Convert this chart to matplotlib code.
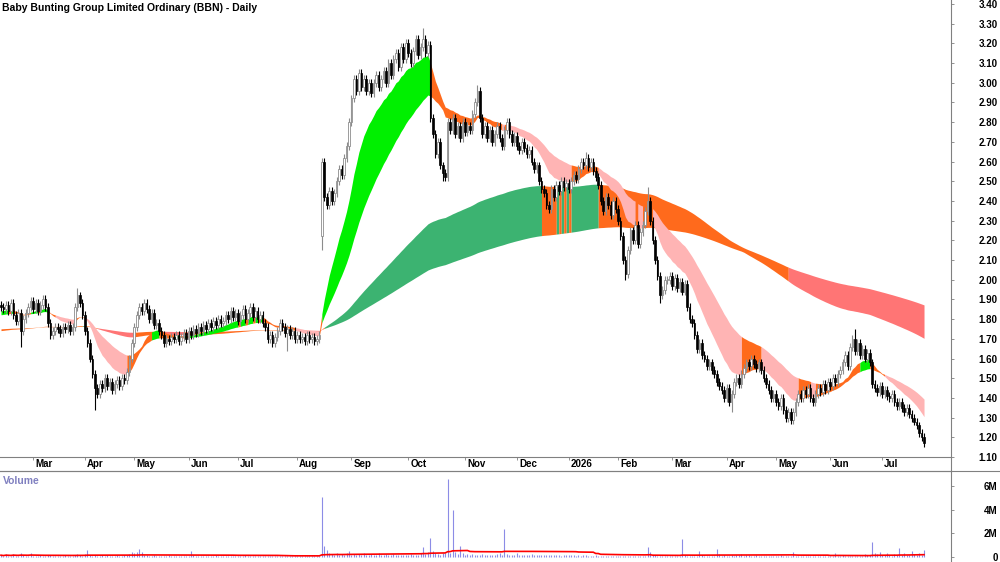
import numpy as np
import matplotlib
matplotlib.use("Agg")
import matplotlib.pyplot as plt
from matplotlib.lines import Line2D

plt.rcParams['font.family'] = ['Liberation Sans', 'DejaVu Sans']

# ---------------------------------------------------------------
# data (daily)
# ---------------------------------------------------------------
title = "Baby Bunting Group Limited Ordinary (BBN) - Daily"

closes = [
    1.86, 1.85, 1.87, 1.84, 1.88, 1.82, 1.79, 1.83, 1.74, 1.80,
    1.83, 1.86, 1.89, 1.85, 1.88, 1.84, 1.87, 1.90, 1.86, 1.78,
    1.72, 1.74, 1.76, 1.75, 1.73, 1.76, 1.75, 1.77, 1.74, 1.76,
    1.86, 1.92, 1.88, 1.82, 1.74, 1.68, 1.60, 1.52, 1.45, 1.42,
    1.47, 1.45, 1.50, 1.46, 1.48, 1.44, 1.47, 1.49, 1.46, 1.50,
    1.49, 1.53, 1.60, 1.68, 1.76, 1.82, 1.86, 1.84, 1.88, 1.85,
    1.80, 1.83, 1.77, 1.78, 1.74, 1.72, 1.68, 1.70, 1.69, 1.71,
    1.70, 1.72, 1.69, 1.71, 1.73, 1.70, 1.74, 1.72, 1.75, 1.73,
    1.76, 1.74, 1.77, 1.75, 1.78, 1.76, 1.79, 1.77, 1.80, 1.78,
    1.79, 1.82, 1.80, 1.84, 1.81, 1.83, 1.79, 1.82, 1.85, 1.80,
    1.83, 1.86, 1.81, 1.84, 1.80, 1.82, 1.78, 1.76, 1.70, 1.72,
    1.68, 1.71, 1.74, 1.78, 1.76, 1.73, 1.75, 1.72, 1.74, 1.70,
    1.72, 1.70, 1.71, 1.69, 1.72, 1.70, 1.71, 1.69, 1.70, 1.72,
    2.60, 2.42, 2.38, 2.45, 2.40, 2.44, 2.50, 2.56, 2.53, 2.62,
    2.68, 2.80, 2.92, 3.02, 2.96, 3.05, 2.98, 3.02, 2.96, 3.00,
    2.95, 3.00, 3.04, 2.98, 3.02, 3.06, 3.00, 3.10, 3.04, 3.12,
    3.15, 3.08, 3.18, 3.12, 3.20, 3.15, 3.10, 3.16, 3.22, 3.14,
    3.18, 3.22, 3.15, 3.19, 2.82, 2.74, 2.64, 2.70, 2.58, 2.54,
    2.52, 2.80, 2.76, 2.82, 2.74, 2.78, 2.72, 2.80, 2.75, 2.78,
    2.76, 2.84, 2.90, 2.96, 2.82, 2.74, 2.78, 2.72, 2.76, 2.70,
    2.74, 2.78, 2.72, 2.68, 2.76, 2.80, 2.74, 2.70, 2.73, 2.68,
    2.66, 2.70, 2.67, 2.64, 2.66, 2.60, 2.56, 2.58, 2.50, 2.46,
    2.44, 2.38, 2.36, 2.46, 2.42, 2.48, 2.45, 2.50, 2.47, 2.49,
    2.46, 2.50, 2.53, 2.51, 2.56, 2.60, 2.58, 2.62, 2.57, 2.60,
    2.55, 2.52, 2.48, 2.40, 2.35, 2.42, 2.38, 2.33, 2.40, 2.36,
    2.30, 2.22, 2.10, 2.03, 2.15, 2.25, 2.20, 2.28, 2.18, 2.24,
    2.28, 2.35, 2.40, 2.30, 2.20, 2.10, 2.02, 1.92, 1.95, 2.00,
    2.00, 2.02, 1.97, 2.01, 1.96, 1.99, 1.94, 1.98, 1.86, 1.80,
    1.78, 1.72, 1.65, 1.68, 1.62, 1.60, 1.56, 1.58, 1.54, 1.52,
    1.48, 1.46, 1.44, 1.40, 1.45, 1.38, 1.42, 1.48, 1.50, 1.47,
    1.52, 1.55, 1.58, 1.56, 1.60, 1.57, 1.55, 1.58, 1.54, 1.50,
    1.47, 1.44, 1.40, 1.42, 1.38, 1.36, 1.40, 1.34, 1.30, 1.33,
    1.29, 1.33, 1.38, 1.42, 1.40, 1.44, 1.42, 1.45, 1.40, 1.38,
    1.42, 1.45, 1.43, 1.47, 1.44, 1.48, 1.46, 1.50, 1.48, 1.52,
    1.54, 1.58, 1.62, 1.56, 1.66, 1.70, 1.64, 1.68, 1.62, 1.65,
    1.60, 1.63, 1.58, 1.47, 1.45, 1.43, 1.46, 1.42, 1.44, 1.41,
    1.40, 1.42, 1.38, 1.36, 1.38, 1.35, 1.33, 1.35, 1.32, 1.30,
    1.28, 1.26, 1.22, 1.20, 1.17,
]
first_open = 1.87
gap_opens = {130: 2.22}
spike_highs = {31: 1.96, 58: 1.90, 130: 2.62, 171: 3.28, 193: 2.99,
               237: 2.65, 262: 2.47, 346: 1.75}
spike_lows = {8: 1.66, 38: 1.34, 116: 1.64, 130: 2.15, 179: 2.50,
              253: 2.00, 267: 1.88, 296: 1.33, 320: 1.27, 374: 1.15}
wick = 0.02

# volume in thousands of shares
volume_k = [
    150, 90, 220, 120, 80, 260, 110, 70, 300, 140, 90, 120, 350, 100, 80,
    110, 140, 90, 70, 160, 200, 90, 60, 120, 80, 100, 150, 70, 90, 110,
    180, 250, 140, 110, 260, 600, 150, 120, 200, 110, 90, 130, 80, 150, 100,
    70, 120, 160, 90, 110, 200, 140, 250, 420, 300, 380, 700, 450, 200, 150,
    120, 90, 140, 80, 60, 110, 90, 70, 130, 100, 80, 120, 70, 90, 60,
    100, 80, 500, 150, 70, 110, 90, 60, 120, 80, 100, 70, 130, 90, 60,
    80, 110, 70, 90, 60, 120, 80, 100, 70, 140, 90, 60, 110, 80, 70,
    90, 120, 80, 60, 100, 70, 90, 110, 60, 80, 70, 100, 60, 90, 80,
    60, 80, 70, 90, 60, 100, 70, 80, 60, 90, 5100, 900, 550, 300, 250,
    200, 350, 180, 250, 150, 300, 500, 200, 250, 180, 220, 150, 300, 200, 170,
    250, 180, 140, 300, 200, 160, 220, 180, 150, 250, 200, 170, 130, 200, 160,
    150, 230, 180, 140, 200, 300, 850, 250, 400, 1600, 500, 300, 250, 200, 350,
    300, 6600, 350, 4000, 400, 250, 900, 300, 200, 250, 180, 220, 150, 200, 170,
    250, 180, 140, 200, 160, 150, 230, 300, 180, 2400, 250, 200, 160, 140, 300,
    180, 150, 200, 160, 130, 220, 180, 150, 200, 170, 140, 160, 180, 150, 200,
    170, 140, 120, 160, 130, 150, 200, 140, 120, 170, 110, 130, 150, 120, 100,
    90, 140, 110, 80, 120, 100, 90, 70, 110, 80, 60, 100, 70, 90, 80,
    60, 100, 80, 70, 90, 60, 120, 850, 400, 200, 150, 100, 120, 80, 90,
    70, 110, 80, 60, 100, 90, 1500, 200, 120, 90, 100, 70, 80, 500, 150,
    90, 110, 70, 80, 60, 700, 250, 120, 150, 100, 80, 200, 120, 150, 180,
    250, 100, 130, 180, 90, 120, 150, 80, 110, 70, 100, 80, 120, 90, 60,
    90, 130, 70, 100, 80, 110, 380, 120, 90, 70, 100, 80, 60, 90, 110,
    70, 100, 80, 60, 90, 120, 70, 80, 300, 100, 90, 150, 80, 110, 90,
    70, 120, 100, 80, 110, 250, 150, 200, 1300, 300, 250, 400, 200, 150, 300,
    180, 120, 250, 200, 750, 150, 300, 200, 180, 500, 250, 180, 300, 200, 600,
]

month_pos = [13, 34, 54, 76, 96, 120, 142, 165, 188, 209, 230, 250, 272, 294, 314, 336, 357]
month_lbl = ["Mar", "Apr", "May", "Jun", "Jul", "Aug", "Sep", "Oct", "Nov", "Dec",
             "2026", "Feb", "Mar", "Apr", "May", "Jun", "Jul"]

# moving average ribbons (periods fitted to the picture) and their start values
short_periods = [15, 18, 22, 26, 31, 37]
short_seeds = [1.84, 1.836, 1.832, 1.828, 1.824, 1.82]
long_periods = [150, 175, 200, 225, 250, 300]
long_seeds = [1.74, 1.742, 1.744, 1.746, 1.748, 1.75]
vol_ma_len = 60

# ---------------------------------------------------------------
c = np.array(closes)
n = len(c)
x = np.arange(n)
o = np.r_[first_open, c[:-1]]
for k, v in gap_opens.items():
    o[k] = v
hi = np.maximum(o, c) + wick
lo = np.minimum(o, c) - wick
for k, v in spike_highs.items():
    hi[k] = v
for k, v in spike_lows.items():
    lo[k] = v
vol = np.array(volume_k) * 1000.0


def ema(vals, p, seed):
    out = np.empty(len(vals))
    a = 2.0 / (p + 1)
    prev = seed
    for i, v in enumerate(vals):
        prev = prev + a * (v - prev)
        out[i] = prev
    return out


def band_state(emas, seeds):
    # green: all rising and fast above slow; red: all falling and fast below slow; else orange
    e = np.array(emas)
    prev = np.column_stack([np.array(seeds), e[:, :-1]])
    d = e - prev
    g = np.diff(e, axis=0)
    bull = np.all(d > 0, axis=0) & np.all(g < 0, axis=0)
    bear = np.all(d < 0, axis=0) & np.all(g > 0, axis=0)
    st = np.where(bull, 0, np.where(bear, 1, 2))
    return e.min(axis=0), e.max(axis=0), st


def draw_band(ax, lo_b, hi_b, st, colors):
    start = 0
    for i in range(1, n + 1):
        if i == n or st[i] != st[start]:
            end = min(i, n - 1)
            ax.fill_between(x[start:end + 1], lo_b[start:end + 1], hi_b[start:end + 1],
                            color=colors[st[start]], lw=0, zorder=1)
            start = i


s_lo, s_hi, s_st = band_state([ema(c, p, s) for p, s in zip(short_periods, short_seeds)], short_seeds)
l_lo, l_hi, l_st = band_state([ema(c, p, s) for p, s in zip(long_periods, long_seeds)], long_seeds)

W, H = 1000, 562
fig = plt.figure(figsize=(10, 5.62), dpi=100)
ax = fig.add_axes([0, 1 - 457 / H, 951 / W, 457 / H])
axv = fig.add_axes([0, 0, 951 / W, 91 / H])

# ribbons
draw_band(ax, l_lo, l_hi, l_st, ["#3cb371", "#ff7575", "#ff6a1c"])
draw_band(ax, s_lo, s_hi, s_st, ["#00f000", "#ffb4b4", "#ff6a1c"])

# candles
up = c >= o
ax.vlines(x[up], lo[up], hi[up], color="#8c8c8c", lw=0.8, zorder=3)
ax.vlines(x[~up], lo[~up], hi[~up], color="black", lw=0.8, zorder=3)
body = np.maximum(np.abs(c - o), 0.004)
ax.bar(x[up], body[up], bottom=np.minimum(o, c)[up], width=0.65,
       facecolor="white", edgecolor="#8c8c8c", lw=0.6, zorder=4)
ax.bar(x[~up], body[~up], bottom=np.minimum(o, c)[~up], width=0.65,
       facecolor="black", edgecolor="black", lw=0.5, zorder=4)

xl = (-0.4, -0.4 + 951 / 2.468)
ax.set_xlim(*xl)
ax.set_ylim(1.10, 3.42)
ax.yaxis.tick_right()
yt = np.round(np.arange(1.10, 3.41, 0.10), 2)
ax.set_yticks(yt)
ax.set_yticklabels(["%.2f" % v for v in yt], fontsize=7, fontweight="bold", ha="right")
ax.tick_params(axis="y", length=2.5, width=0.6, color="#808080", pad=31)
ax.set_xticks(month_pos)
ax.set_xticklabels([])
ax.tick_params(axis="x", length=2.5, width=0.6, color="#808080", direction="out")
for t, lab in zip(month_pos, month_lbl):
    ax.annotate(lab, xy=(t, 0), xycoords=("data", "axes fraction"),
                xytext=(1.5, -5), textcoords="offset points",
                ha="left", va="center", fontsize=7, fontweight="bold")
for s in ["top", "left"]:
    ax.spines[s].set_visible(False)
for s in ["bottom", "right"]:
    ax.spines[s].set_color("#808080")
    ax.spines[s].set_linewidth(0.8)
ax.text(2 / 951, 1 - 8 / 457, title, transform=ax.transAxes, ha="left", va="center",
        fontsize=7.5, fontweight="bold")

# volume
axv.vlines(x, 0, vol, color="#8c8ce6", lw=0.8)
vma = np.array([vol[max(0, i - vol_ma_len + 1):i + 1].mean() for i in range(n)])
axv.plot(x, vma, color="red", lw=1.2)
axv.set_xlim(*xl)
axv.set_ylim(-0.43e6, 7.32e6)
axv.yaxis.tick_right()
axv.set_yticks([0, 2e6, 4e6, 6e6])
axv.set_yticklabels(["0", "2M", "4M", "6M"], fontsize=7, fontweight="bold", ha="right")
axv.tick_params(axis="y", length=2.5, width=0.6, color="#808080", pad=31)
axv.set_xticks([])
for s in ["bottom", "left"]:
    axv.spines[s].set_visible(False)
for s in ["top", "right"]:
    axv.spines[s].set_color("#808080")
    axv.spines[s].set_linewidth(0.8)
axv.text(3 / 951, 1 - 10 / 91, "Volume", transform=axv.transAxes, ha="left", va="center",
         fontsize=7.5, fontweight="bold", color="#8080c0")

# strip separators
fig.add_artist(Line2D([0, 1], [91 / H, 91 / H], color="#808080", lw=0.8))
fig.add_artist(Line2D([951 / W, 951 / W], [91 / H, 1 - 457 / H], color="#808080", lw=0.8))

fig.savefig("out.png", dpi=100)
